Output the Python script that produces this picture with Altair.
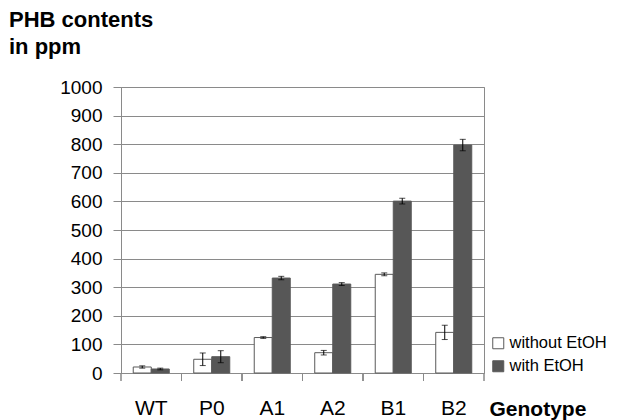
import altair as alt
import pandas as pd

genotypes = ["WT", "P0", "A1", "A2", "B1", "B2"]
series_names = ["without EtOH", "with EtOH"]
without_vals = [21, 48, 124, 71, 345, 142]
without_err = [4, 22, 3, 8, 5, 25]
with_vals = [14, 57, 332, 311, 601, 797]
with_err = [3, 21, 6, 5, 10, 20]
y_ticks = [0, 100, 200, 300, 400, 500, 600, 700, 800, 900, 1000]

rows = []
for i, g in enumerate(genotypes):
    rows.append({"genotype": g, "series": series_names[0], "value": without_vals[i],
                 "lo": without_vals[i] - without_err[i], "hi": without_vals[i] + without_err[i]})
    rows.append({"genotype": g, "series": series_names[1], "value": with_vals[i],
                 "lo": with_vals[i] - with_err[i], "hi": with_vals[i] + with_err[i]})
df = pd.DataFrame(rows)

FONT = "Liberation Sans"
GRAY = "#8a8a8a"

xscale = alt.Scale(paddingInner=0, paddingOuter=0)
xoff = alt.XOffset("series:N", sort=series_names,
                   scale=alt.Scale(paddingInner=0, paddingOuter=0.68))
yscale = alt.Scale(domain=[0, 1000])
yaxis = alt.Axis(title=None, values=y_ticks, format="d", labelFontSize=19, labelOverlap=False,
                 labelFont=FONT, labelColor="black", tickSize=8, tickColor=GRAY,
                 domainColor=GRAY, grid=True, gridColor=GRAY, labelPadding=11)
xaxis = alt.Axis(title="Genotype", labelAngle=0, labelFontSize=21, labelColor="black",
                 labelFont=FONT, labelPadding=24, ticks=False, domainColor=GRAY, grid=False,
                 titleFont=FONT, titleFontSize=21, titleFontWeight="bold",
                 titleX=368, titleY=42, titleAlign="left", titleBaseline="alphabetic",
                 titleColor="black")

base = alt.Chart(df)

bars = base.mark_bar(stroke="#5a5a5a", strokeWidth=1).encode(
    x=alt.X("genotype:N", sort=genotypes, scale=xscale, axis=xaxis),
    xOffset=xoff,
    y=alt.Y("value:Q", scale=yscale, axis=yaxis),
    color=alt.Color("series:N", sort=series_names,
                    scale=alt.Scale(domain=series_names, range=["#ffffff", "#575757"]),
                    legend=alt.Legend(title=None, orient="none", legendX=369, legendY=248,
                                      padding=0, symbolType="square", symbolSize=121,
                                      symbolStrokeColor="#5a5a5a", symbolStrokeWidth=1,
                                      labelFontSize=16.5, labelFont=FONT, labelColor="black",
                                      rowPadding=6, labelOffset=3)),
)

err_rule = base.mark_rule(color="black", strokeWidth=1).encode(
    x=alt.X("genotype:N", sort=genotypes, scale=xscale, axis=xaxis),
    xOffset=xoff,
    y=alt.Y("lo:Q", scale=yscale, axis=yaxis),
    y2="hi:Q",
)
cap_lo = base.mark_tick(color="black", thickness=1, size=6, orient="horizontal").encode(
    x=alt.X("genotype:N", sort=genotypes, scale=xscale, axis=xaxis),
    xOffset=xoff,
    y=alt.Y("lo:Q", scale=yscale, axis=yaxis),
)
cap_hi = base.mark_tick(color="black", thickness=1, size=6, orient="horizontal").encode(
    x=alt.X("genotype:N", sort=genotypes, scale=xscale, axis=xaxis),
    xOffset=xoff,
    y=alt.Y("hi:Q", scale=yscale, axis=yaxis),
)

ticks_start = base.mark_rule(color=GRAY, strokeWidth=1).encode(
    x=alt.X("genotype:N", sort=genotypes, scale=xscale, bandPosition=0, axis=xaxis),
    y=alt.value(286), y2=alt.value(294),
)
ticks_end = base.mark_rule(color=GRAY, strokeWidth=1).encode(
    x=alt.X("genotype:N", sort=genotypes, scale=xscale, bandPosition=1, axis=xaxis),
    y=alt.value(286), y2=alt.value(294),
)

chart = alt.layer(bars, err_rule, cap_lo, cap_hi, ticks_start, ticks_end).properties(
    width=363, height=286,
    autosize=alt.AutoSizeParams(type="none"),
    padding={"left": 113, "top": 79, "right": 126, "bottom": 50},
    title=alt.TitleParams(text=["PHB contents", "in ppm"], anchor="start", frame="group",
                          dx=-112, fontSize=22, fontWeight="bold", font=FONT, color="black",
                          lineHeight=27, offset=19),
).configure_view(stroke=GRAY)

chart.save("out.html", embed_options={"renderer": "svg", "actions": False})
